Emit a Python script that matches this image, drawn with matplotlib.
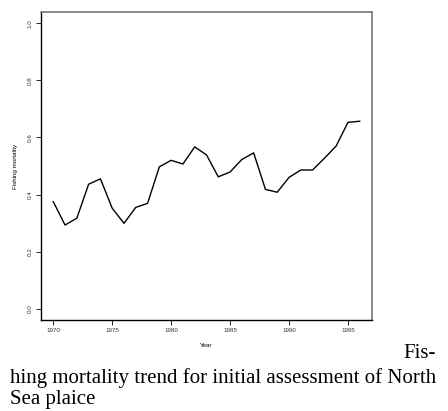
import matplotlib
matplotlib.use("Agg")
import matplotlib.pyplot as plt

years = list(range(1970, 1997))
fmort = [0.375, 0.293, 0.317, 0.436, 0.455, 0.352, 0.299, 0.355, 0.369, 0.497,
         0.520, 0.507, 0.567, 0.539, 0.462, 0.479, 0.523, 0.546, 0.418, 0.408,
         0.460, 0.486, 0.486, 0.527, 0.570, 0.653, 0.657]

xticks = [1970, 1975, 1980, 1985, 1990, 1995]
yticks = [0.0, 0.2, 0.4, 0.6, 0.8, 1.0]

fig = plt.figure(figsize=(4.48, 4.11), dpi=100)
ax = fig.add_axes([41 / 448, 1 - 320 / 411, 331 / 448, 308 / 411])

ax.plot(years, fmort, color="black", lw=1.0)
ax.set_xlim(1968.96, 1997.04)
ax.set_ylim(-0.04, 1.04)

sans = "Liberation Sans"
ax.set_xticks(xticks)
ax.set_xticklabels([str(t) for t in xticks], fontsize=4.5, color="#333333",
                   family=sans)
ax.set_yticks(yticks)
ax.set_yticklabels([f"{t:.1f}" for t in yticks], fontsize=4.5, rotation=90,
                   va="center", color="#333333", family=sans)
ax.tick_params(length=3.6, width=0.6, pad=2.5)

ax.set_xlabel("Year", fontsize=4.5, labelpad=7, family=sans)
ax.set_ylabel("Fishing mortality", fontsize=4.5, labelpad=6.5, family=sans)

for side in ["left", "bottom"]:
    ax.spines[side].set_color("black")
    ax.spines[side].set_linewidth(1.0)
for side in ["top", "right"]:
    ax.spines[side].set_color("#777777")
    ax.spines[side].set_linewidth(1.2)

cap = dict(family="Liberation Serif", fontsize=15, color="black")
fig.text(436 / 448, 1 - 358 / 411, "Fis-", ha="right", va="baseline", **cap)
fig.text(10 / 448, 1 - 382.5 / 411,
         "hing mortality trend for initial assessment of North",
         ha="left", va="baseline", **cap)
fig.text(10 / 448, 1 - 404 / 411, "Sea plaice", ha="left", va="baseline", **cap)

fig.savefig("out.png", dpi=100)
